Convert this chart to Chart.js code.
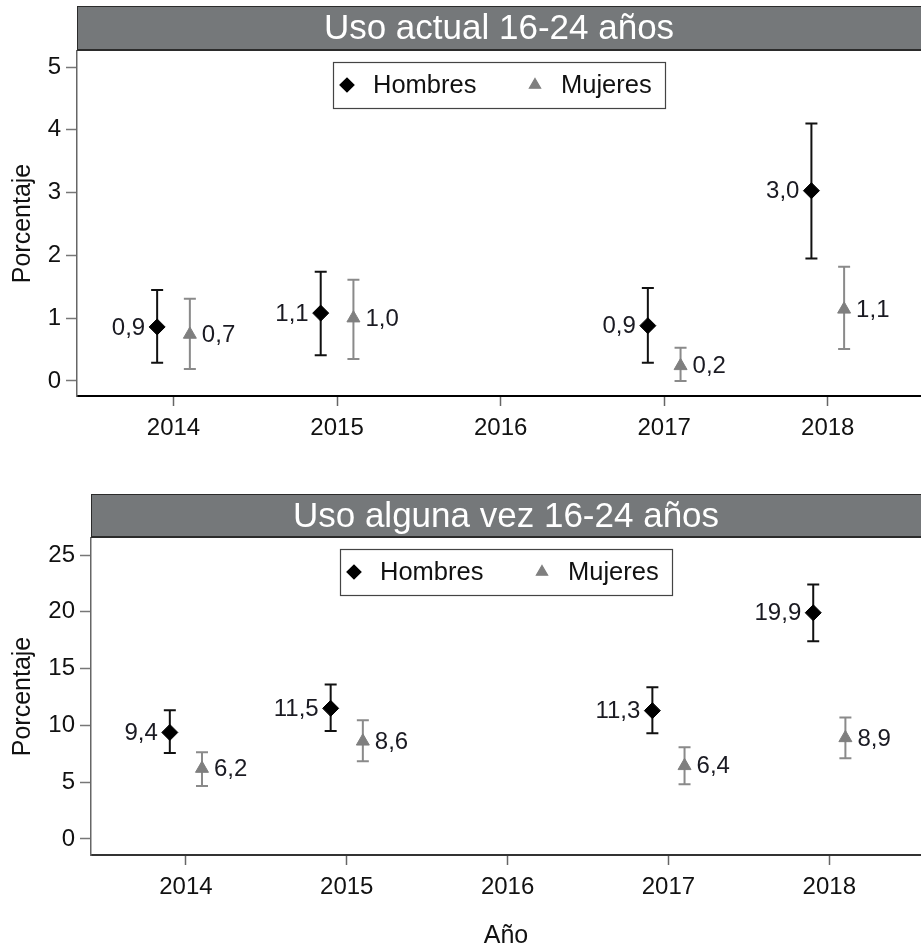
<!DOCTYPE html>
<html>
<head>
<meta charset="utf-8">
<script src="https://cdn.jsdelivr.net/npm/chart.js@4/dist/chart.umd.min.js"></script>
<style>
  html, body { margin: 0; padding: 0; background: #fff; overflow: hidden; }
  canvas { position: absolute; left: 0; }
  #chartActual { top: 0; }
  #chartAlguna { top: 475px; }
</style>
</head>
<body>
<canvas id="chartActual" width="921" height="475"></canvas>
<canvas id="chartAlguna" width="921" height="474"></canvas>
<script>
// years with data and x tick labels
var years = [2014, 2015, 2017, 2018];
var xTicks = [2014, 2015, 2016, 2017, 2018];

// Uso actual 16-24 años
var actualHombres = [0.86, 1.08, 0.88, 3.03];
var actualHombresLo = [0.29, 0.41, 0.29, 1.95];
var actualHombresHi = [1.45, 1.74, 1.48, 4.10];
var actualMujeres = [0.74, 1.0, 0.24, 1.14];
var actualMujeresLo = [0.19, 0.35, 0.0, 0.51];
var actualMujeresHi = [1.31, 1.61, 0.53, 1.82];
var actualTicks = [0, 1, 2, 3, 4, 5];

// Uso alguna vez 16-24 años
var algunaHombres = [9.38, 11.5, 11.3, 19.92];
var algunaHombresLo = [7.56, 9.5, 9.31, 17.4];
var algunaHombresHi = [11.33, 13.6, 13.36, 22.4];
var algunaMujeres = [6.2, 8.6, 6.44, 8.9];
var algunaMujeresLo = [4.66, 6.85, 4.83, 7.1];
var algunaMujeresHi = [7.64, 10.46, 8.08, 10.7];
var algunaTicks = [0, 5, 10, 15, 20, 25];

var FONT = "'Liberation Sans', Arial, sans-serif";
var BLACK = "#000000";
var GREY = "#7f7f7f";

Chart.defaults.font.family = FONT;
Chart.defaults.color = "#111";

function fmt(v) {
  return v.toFixed(1).replace(".", ",");
}

// error bars (drawn under the markers) + value labels
var errorBars = {
  id: "errorBars",
  beforeDatasetsDraw: function (chart) {
    var ctx = chart.ctx;
    var ys = chart.scales.y;
    chart.data.datasets.forEach(function (ds, i) {
      var meta = chart.getDatasetMeta(i);
      ctx.save();
      ctx.strokeStyle = ds.errColor;
      ctx.lineWidth = 2;
      meta.data.forEach(function (pt, j) {
        var top = ys.getPixelForValue(ds.hi[j]);
        var bot = ys.getPixelForValue(ds.lo[j]);
        ctx.beginPath();
        ctx.moveTo(pt.x, top);
        ctx.lineTo(pt.x, bot);
        ctx.moveTo(pt.x - 6, top);
        ctx.lineTo(pt.x + 6, top);
        ctx.moveTo(pt.x - 6, bot);
        ctx.lineTo(pt.x + 6, bot);
        ctx.stroke();
      });
      ctx.restore();
    });
  },
  afterDatasetsDraw: function (chart) {
    // Hombres to the left, Mujeres to the right
    var ctx = chart.ctx;
    chart.data.datasets.forEach(function (ds, i) {
      var meta = chart.getDatasetMeta(i);
      ctx.save();
      ctx.font = "24px " + FONT;
      ctx.fillStyle = "#1a1a22";
      ctx.textBaseline = "middle";
      ctx.textAlign = ds.side < 0 ? "right" : "left";
      meta.data.forEach(function (pt, j) {
        ctx.fillText(fmt(ds.data[j].y), pt.x + ds.side * 12, pt.y + 1);
      });
      ctx.restore();
    });
  },
};

// grey title strip and legend box
var frame = {
  id: "frame",
  afterDraw: function (chart) {
    var ctx = chart.ctx;
    var a = chart.chartArea;
    var o = chart.options.plugins.frame;
    var top = o.barTop;
    var bottom = a.top;
    ctx.save();
    ctx.fillStyle = "#75787a";
    ctx.fillRect(a.left, top, chart.width - a.left, bottom - top);
    ctx.strokeStyle = "#2b2b2b";
    ctx.lineWidth = 1;
    ctx.strokeRect(a.left + 0.5, top + 0.5, chart.width, bottom - top - 1);
    ctx.lineWidth = 2;
    ctx.beginPath();
    ctx.moveTo(a.left, bottom - 1);
    ctx.lineTo(chart.width, bottom - 1);
    ctx.stroke();
    ctx.fillStyle = "#ffffff";
    ctx.font = "35px " + FONT;
    ctx.textAlign = "center";
    ctx.textBaseline = "middle";
    ctx.fillText(o.text, (a.left + a.right) / 2, (top + bottom) / 2 + 1);

    // legend
    var bw = 332, bh = 46;
    var bx = Math.round((a.left + a.right) / 2 - bw / 2);
    var by = a.top + 11;
    ctx.fillStyle = "#fff";
    ctx.fillRect(bx, by, bw, bh);
    ctx.strokeStyle = "#444";
    ctx.lineWidth = 1.2;
    ctx.strokeRect(bx + 0.5, by + 0.5, bw, bh);
    var cy = by + bh / 2;
    ctx.fillStyle = BLACK;
    ctx.strokeStyle = BLACK;
    Chart.helpers.drawPoint(ctx, { pointStyle: "rectRot", radius: 7, borderWidth: 1 }, bx + 14, cy);
    ctx.fillStyle = "#111";
    ctx.font = "25.5px " + FONT;
    ctx.textAlign = "left";
    ctx.fillText("Hombres", bx + 40, cy + 1);
    ctx.fillStyle = GREY;
    ctx.strokeStyle = GREY;
    Chart.helpers.drawPoint(ctx, { pointStyle: "triangle", radius: 6.5, borderWidth: 1 }, bx + 202, cy);
    ctx.fillStyle = "#111";
    ctx.fillText("Mujeres", bx + 228, cy + 1);
    ctx.restore();
  },
};

function series(vals, offset) {
  return vals.map(function (v, i) {
    return { x: years[i] + offset, y: v };
  });
}

function makeChart(id, opt) {
  var ctx = document.getElementById(id).getContext("2d");
  var config = {
    type: "scatter",
    data: {
      datasets: [
        {
          label: "Hombres",
          data: series(opt.hombres, -0.1),
          lo: opt.hombresLo,
          hi: opt.hombresHi,
          errColor: "#111",
          side: -1,
          pointStyle: "rectRot",
          pointRadius: 8,
          backgroundColor: BLACK,
          borderColor: BLACK,
          borderWidth: 1,
        },
        {
          label: "Mujeres",
          data: series(opt.mujeres, 0.1),
          lo: opt.mujeresLo,
          hi: opt.mujeresHi,
          errColor: "#8a8a8a",
          side: 1,
          pointStyle: "triangle",
          pointRadius: 7.5,
          backgroundColor: GREY,
          borderColor: GREY,
          borderWidth: 1,
        },
      ],
    },
    options: {
      responsive: false,
      animation: false,
      layout: {
        autoPadding: false,
        padding: { top: opt.areaTop, left: 0, right: 0, bottom: 0 },
      },
      plugins: {
        legend: { display: false },
        tooltip: { enabled: false },
        frame: { text: opt.title, barTop: opt.barTop },
      },
      scales: {
        x: {
          type: "linear",
          min: 2013.41,
          max: 2018.57,
          afterBuildTicks: function (scale) {
            scale.ticks = xTicks.map(function (v) {
              return { value: v };
            });
          },
          afterFit: function (scale) {
            scale.height = opt.xHeight;
            scale.paddingLeft = 0;
            scale.paddingRight = 0;
          },
          ticks: {
            font: { size: 24 },
            color: "#111",
            padding: 8,
            maxRotation: 0,
            callback: function (v) {
              return String(v);
            },
          },
          grid: {
            drawOnChartArea: false,
            drawTicks: true,
            tickLength: 10,
            tickColor: "#666",
            tickWidth: 1.5,
          },
          border: { display: true, color: opt.xAxisColor, width: 2 },
          title: {
            display: opt.showXTitle,
            text: "Año",
            font: { size: 25, lineHeight: 1 },
            color: "#111",
            padding: { top: 0, bottom: 0 },
          },
        },
        y: {
          min: opt.yMin,
          max: opt.yMax,
          afterBuildTicks: function (scale) {
            scale.ticks = opt.yTicks.map(function (v) {
              return { value: v };
            });
          },
          afterFit: function (scale) {
            scale.width = opt.yWidth;
          },
          ticks: {
            font: { size: 24 },
            color: "#111",
            padding: 5,
          },
          grid: {
            drawOnChartArea: false,
            drawTicks: true,
            tickLength: 11,
            tickColor: "#777",
            tickWidth: 1.5,
          },
          border: { display: true, color: "#666", width: 1.5 },
          title: {
            display: true,
            text: "Porcentaje",
            font: { size: 25 },
            color: "#111",
            padding: { top: 8, bottom: 0 },
          },
        },
      },
    },
    plugins: [errorBars, frame],
  };
  return new Chart(ctx, config);
}

var chartActual = makeChart("chartActual", {
  title: "Uso actual 16-24 años",
  hombres: actualHombres,
  hombresLo: actualHombresLo,
  hombresHi: actualHombresHi,
  mujeres: actualMujeres,
  mujeresLo: actualMujeresLo,
  mujeresHi: actualMujeresHi,
  yTicks: actualTicks,
  yMin: -0.24,
  yMax: 5.255,
  yWidth: 77,
  xHeight: 79,
  areaTop: 51,
  barTop: 6,
  xAxisColor: "#000",
  showXTitle: false,
});

var chartAlguna = makeChart("chartAlguna", {
  title: "Uso alguna vez 16-24 años",
  hombres: algunaHombres,
  hombresLo: algunaHombresLo,
  hombresHi: algunaHombresHi,
  mujeres: algunaMujeres,
  mujeresLo: algunaMujeresLo,
  mujeresHi: algunaMujeresHi,
  yTicks: algunaTicks,
  yMin: -1.41,
  yMax: 26.5,
  yWidth: 91,
  xHeight: 94,
  areaTop: 63,
  barTop: 19,
  xAxisColor: "#333",
  showXTitle: true,
});
</script>
</body>
</html>
